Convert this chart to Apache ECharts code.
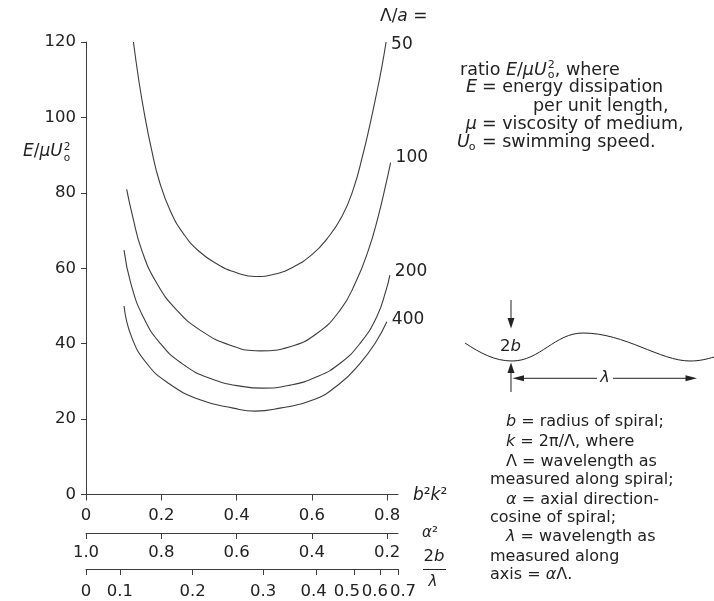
<!DOCTYPE html>
<html>
<head>
<meta charset="utf-8">
<script src="https://cdn.jsdelivr.net/npm/echarts@6/dist/echarts.min.js"></script>
<style>
  html, body { margin: 0; padding: 0; background: #ffffff; }
  #chart { width: 714px; height: 601px; }
</style>
</head>
<body>
<div id="chart"></div>
<script>
// Energy dissipation of a helical swimmer, E/μU₀², against b²k² for several Λ/a.
const curveNames = ['50', '100', '200', '400'];

const bk50 = [0.126, 0.140, 0.155, 0.174, 0.195, 0.225, 0.260, 0.300, 0.350, 0.400, 0.450, 0.500, 0.550, 0.600, 0.640, 0.680, 0.710, 0.735, 0.755, 0.770, 0.785, 0.797];
const e50  = [120.0, 110.0, 101.0, 91.5, 83.0, 75.0, 69.0, 64.5, 61.0, 58.8, 57.8, 58.4, 60.3, 63.6, 67.8, 73.8, 81.0, 90.0, 98.5, 105.5, 113.0, 120.0];

const bk100 = [0.108, 0.124, 0.148, 0.188, 0.241, 0.303, 0.383, 0.462, 0.542, 0.613, 0.675, 0.715, 0.750, 0.776, 0.797, 0.809];
const e100  = [80.9, 73.7, 64.8, 56.0, 48.9, 43.6, 39.6, 38.1, 39.2, 42.7, 48.9, 56.0, 64.8, 73.7, 82.5, 88.0];

const bk200 = [0.101, 0.119, 0.152, 0.197, 0.254, 0.329, 0.418, 0.468, 0.542, 0.613, 0.675, 0.728, 0.772, 0.797, 0.807];
const e200  = [64.8, 56.0, 47.1, 40.1, 34.8, 30.8, 28.6, 28.2, 29.0, 31.2, 34.8, 40.1, 47.1, 54.2, 58.2];

const bk400 = [0.101, 0.121, 0.161, 0.219, 0.303, 0.391, 0.449, 0.515, 0.604, 0.675, 0.728, 0.768, 0.799];
const e400  = [50.0, 41.8, 34.8, 29.5, 25.1, 22.9, 22.1, 22.9, 25.1, 29.5, 34.8, 40.1, 45.8];

// Tick labels of the three horizontal scales
const bkTicks = [0, 0.2, 0.4, 0.6, 0.8];                    // b²k²
const ratioTicks = [0, 0.1, 0.2, 0.3, 0.4, 0.5, 0.6, 0.7]; // 2b/λ
const yMin = 0, yMax = 120, yStep = 20;

// Scale conversions: α² = 1 − b²k²,  2b/λ = √(b²k²/(1−b²k²)) / π
const bkToAlpha2 = s => 1 - s;
const ratioToBk = r => { const q = (Math.PI * r) ** 2; return q / (1 + q); };
const bkToRatio = s => Math.sqrt(s / (1 - s)) / Math.PI;
const bkMax = ratioToBk(ratioTicks[ratioTicks.length - 1]);

const curves = [
  { name: curveNames[0], bk: bk50, e: e50 },
  { name: curveNames[1], bk: bk100, e: e100 },
  { name: curveNames[2], bk: bk200, e: e200 },
  { name: curveNames[3], bk: bk400, e: e400 }
];

// ---- styling ----
const FONT = 'DejaVu Sans';
const INK = '#222';
const LINE = '#3c3c3c';
const endLabelDy = { '50': 3, '100': -5, '200': -3, '400': -2 };
// small nudges for the crowded 2b/λ labels (px, + = right)
const ratioLabelShift = { '0.4': -3, '0.5': -7, '0.6': -5, '0.7': 5 };

const measureCtx = document.createElement('canvas').getContext('2d');
function textWidth(str, size, italic) {
  measureCtx.font = (italic ? 'italic ' : '') + size + 'px "' + FONT + '"';
  return measureCtx.measureText(str).width;
}
function rich(size) {
  return {
    i: { fontStyle: 'italic', fontFamily: FONT, fontSize: size, fill: INK, color: INK },
    n: { fontFamily: FONT, fontSize: size, fill: INK, color: INK }
  };
}
function txt(x, y, text, size, align) {
  const a = align || 'left';
  return {
    type: 'text', x: x, y: y, silent: true, z: 10,
    style: {
      text: text, fill: INK, fontFamily: FONT, fontSize: size,
      align: a, textAlign: a, verticalAlign: 'middle', textVerticalAlign: 'middle',
      rich: rich(size)
    }
  };
}
function seg(x1, y1, x2, y2) {
  return { type: 'line', silent: true, shape: { x1, y1, x2, y2 }, style: { stroke: INK, lineWidth: 1 } };
}
function tri(points) {
  return { type: 'polygon', silent: true, shape: { points }, style: { fill: INK } };
}
function bez(x1, y1, cpx1, cpy1, cpx2, cpy2, x2, y2) {
  return { type: 'bezierCurve', silent: true, shape: { x1, y1, cpx1, cpy1, cpx2, cpy2, x2, y2 },
           style: { stroke: INK, lineWidth: 1, fill: null } };
}

const graphics = [];

// vertical axis title E/μU₀² with stacked super/subscript
{
  const x0 = 23, y0 = 152, fs = 17;
  graphics.push(txt(x0, y0, '{i|E}{n|/}{i|μU}', fs));
  const w = textWidth('E', fs, true) + textWidth('/', fs, false) + textWidth('μU', fs, true);
  graphics.push(txt(x0 + w + 1, y0 - 5, '2', 10.5));
  graphics.push(txt(x0 + w + 1, y0 + 6, 'o', 10.5));
}

// Λ/a header for the curve labels
graphics.push(txt(380, 17, '{n|Λ/}{i|a}{n| =}', 17));

// definition block, upper right
{
  const fs = 17.5, lx = 460;
  graphics.push(txt(lx, 70, '{n|ratio }{i|E}{n|/}{i|μU}', fs));
  const w = textWidth('ratio ', fs, false) + textWidth('E', fs, true) + textWidth('/', fs, false) + textWidth('μU', fs, true);
  graphics.push(txt(lx + w + 1, 65, '2', 11));
  graphics.push(txt(lx + w + 1, 75, 'o', 11));
  graphics.push(txt(lx + w + 8, 70, ', where', fs));

  const eqX = 482, varX = 477;
  graphics.push(txt(varX, 87.3, '{i|E}', fs, 'right'));
  graphics.push(txt(eqX, 87.3, '= energy dissipation', fs));
  graphics.push(txt(533, 106, 'per unit length,', fs));
  graphics.push(txt(varX, 124, '{i|μ}', fs, 'right'));
  graphics.push(txt(eqX, 124, '= viscosity of medium,', fs));
  graphics.push(txt(457, 142.7, '{i|U}', fs));
  graphics.push(txt(457 + textWidth('U', fs, true) - 1, 147.5, 'o', 11));
  graphics.push(txt(eqX, 142.7, '= swimming speed.', fs));
}

// sketch of the spiral: wave, 2b and λ dimension arrows
graphics.push(bez(465, 343, 480, 353, 495, 361, 512, 361));
graphics.push(bez(512, 361, 540, 361, 555, 333, 583, 333));
graphics.push(bez(583, 333, 625, 333, 660, 361, 690, 361));
graphics.push(bez(690, 361, 700, 361, 707, 359, 714, 357));
graphics.push(seg(511, 300, 511, 320));
graphics.push(tri([[507.5, 318], [514.5, 318], [511, 328.5]]));
graphics.push(seg(511, 371, 511, 392));
graphics.push(tri([[507.5, 373], [514.5, 373], [511, 362.5]]));
graphics.push(seg(520, 378.3, 597, 378.3));
graphics.push(seg(613, 378.3, 688, 378.3));
graphics.push(tri([[512.5, 378.3], [524, 375.3], [524, 381.3]]));
graphics.push(tri([[697, 378.3], [685.5, 375.3], [685.5, 381.3]]));
graphics.push(txt(605, 378, '{i|λ}', 16, 'center'));
graphics.push(txt(500, 347, '{n|2}{i|b}', 16.5));

// definition block, lower right
{
  const fs = 16, ax = 506, bx = 490;
  const rows = [
    [ax, 421.7, '{i|b}{n| = radius of spiral;}'],
    [ax, 441.7, '{i|k}{n| = 2π/Λ, where}'],
    [ax, 461.7, 'Λ = wavelength as'],
    [bx, 480.0, 'measured along spiral;'],
    [ax, 500.0, '{i|α}{n| = axial direction-}'],
    [bx, 518.3, 'cosine of spiral;'],
    [ax, 537.3, '{i|λ}{n| = wavelength as}'],
    [bx, 556.7, 'measured along'],
    [bx, 575.0, '{n|axis = }{i|α}{n|Λ.}']
  ];
  rows.forEach(r => graphics.push(txt(r[0], r[1], r[2], fs)));
}

// 2b/λ scale title as a stacked fraction
graphics.push(txt(434, 557, '{n|2}{i|b}', 16.5, 'center'));
graphics.push(seg(423, 569.5, 446, 569.5));
graphics.push(txt(433, 582, '{i|λ}', 15, 'center'));

const axisLineStyle = { color: LINE, width: 1 };
const labelBase = { color: INK, fontFamily: FONT, fontSize: 16.5 };

const ratioRich = {};
Object.keys(ratioLabelShift).forEach((k, idx) => {
  const d = ratioLabelShift[k];
  ratioRich['r' + idx] = Object.assign({}, labelBase, {
    padding: d < 0 ? [0, -2 * d, 0, 0] : [0, 0, 0, 2 * d]
  });
});

const option = {
  animation: false,
  backgroundColor: '#ffffff',
  grid: { left: 86, top: 42, width: 312, height: 452.5, containLabel: false, outerBoundsMode: 'none' },
  tooltip: { show: false },
  xAxis: [
    {
      type: 'value', position: 'bottom', offset: 0, min: 0, max: bkMax,
      axisLine: { show: true, onZero: false, lineStyle: axisLineStyle },
      axisTick: { show: true, inside: false, length: 6, customValues: bkTicks, lineStyle: axisLineStyle },
      axisLabel: Object.assign({}, labelBase, {
        margin: 13, customValues: bkTicks, showMinLabel: true, showMaxLabel: true,
        formatter: v => (v === 0 ? '0' : v.toFixed(1))
      }),
      splitLine: { show: false },
      name: '{i|b}{n|²}{i|k}{n|²}', nameLocation: 'end', nameGap: 15,
      nameTextStyle: { rich: rich(17), verticalAlign: 'middle', padding: [3, 0, 0, 0] }
    },
    {
      type: 'value', position: 'bottom', offset: 38.5, min: 0, max: bkMax,
      axisLine: { show: true, onZero: false, lineStyle: axisLineStyle },
      axisTick: { show: true, inside: false, length: 6, customValues: bkTicks, lineStyle: axisLineStyle },
      axisLabel: Object.assign({}, labelBase, {
        margin: 11, customValues: bkTicks, showMinLabel: true, showMaxLabel: true,
        formatter: v => bkToAlpha2(v).toFixed(1)
      }),
      splitLine: { show: false },
      name: '{i|α}{n|²}', nameLocation: 'end', nameGap: 24,
      nameTextStyle: { rich: rich(15), verticalAlign: 'middle' }
    },
    {
      type: 'value', position: 'bottom', offset: 74.5, min: 0, max: bkMax,
      axisLine: { show: true, onZero: false, lineStyle: axisLineStyle },
      axisTick: { show: true, inside: false, length: 6, customValues: ratioTicks.map(ratioToBk), lineStyle: axisLineStyle },
      axisLabel: Object.assign({}, labelBase, {
        margin: 14, customValues: ratioTicks.map(ratioToBk), showMinLabel: true, showMaxLabel: true,
        formatter: v => {
          const r = Math.round(bkToRatio(v) * 10) / 10;
          const s = r === 0 ? '0' : r.toFixed(1);
          const idx = Object.keys(ratioLabelShift).indexOf(s);
          return idx >= 0 ? '{r' + idx + '|' + s + '}' : s;
        },
        rich: ratioRich
      }),
      splitLine: { show: false }
    }
  ],
  yAxis: {
    type: 'value', min: yMin, max: yMax, interval: yStep,
    axisLine: { show: true, onZero: false, lineStyle: axisLineStyle },
    axisTick: { show: true, inside: false, length: 5, lineStyle: axisLineStyle },
    axisLabel: Object.assign({}, labelBase, { margin: 10 }),
    splitLine: { show: false }
  },
  graphic: { elements: graphics },
  series: curves.map(c => ({
    type: 'line',
    name: c.name,
    xAxisIndex: 0,
    yAxisIndex: 0,
    data: c.bk.map((x, i) => [x, c.e[i]]),
    smooth: 0.5,
    symbol: 'none',
    silent: true,
    clip: false,
    lineStyle: { color: LINE, width: 1.1 },
    emphasis: { disabled: true },
    endLabel: {
      show: true, formatter: () => c.name, color: INK, fontFamily: FONT, fontSize: 17,
      distance: 5, offset: [0, endLabelDy[c.name]]
    }
  }))
};

const chart = echarts.init(document.getElementById('chart'), null, { renderer: 'canvas' });
chart.setOption(option);
</script>
</body>
</html>
